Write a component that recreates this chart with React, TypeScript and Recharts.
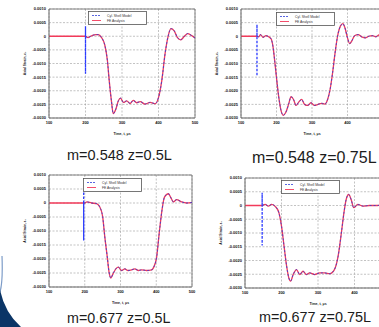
import React from 'react';
import { LineChart, Line, XAxis, YAxis, CartesianGrid, ReferenceLine, Legend } from 'recharts';

const BLUE = '#2f3fd8';
const RED = '#f23a5a';

const xTicks = [0, 100, 200, 300, 400];
const xTickLabels = ['100', '200', '300', '400', '500'];
const yTicks = [0.001, 0.0005, 0, -0.0005, -0.001, -0.0015, -0.002, -0.0025, -0.003];
const yTickLabels = ['0.0010', '0.0005', '0', '-0.0005', '-0.0010', '-0.0015', '-0.0020', '-0.0025', '-0.0030'];

// m=0.548 z=0.5L
const tlTime = [0, 100, 107, 114, 121, 128, 135, 144, 153, 160, 165, 171, 176, 183, 190, 196, 204, 213, 222, 231, 240, 250, 263, 277, 291, 300, 309, 318, 326, 334, 343, 352, 361, 371, 380, 390, 400];
const tlFE = [0, 0, -0.00005, 0, 0.00004, 0.00006, 0.00006, -0.00005, -0.00033, -0.00089, -0.00163, -0.00237, -0.00284, -0.00268, -0.00237, -0.00227, -0.00243, -0.00237, -0.00247, -0.00235, -0.00244, -0.0024, -0.00249, -0.00243, -0.00247, -0.00225, -0.00163, -0.00064, -0.00002, 0.00028, 0.0002, -0.00005, -0.00013, 0, 0.0001, 0.00003, -0.00006];
const tlSpike = [100, 0.00037, -0.00138];

// m=0.548 z=0.75L
const trTime = [0, 45, 50, 55, 62, 70, 78, 85, 90, 95, 100, 106, 112, 119, 126, 134, 141, 148, 155, 163, 171, 179, 188, 197, 207, 217, 227, 236, 244, 251, 258, 265, 272, 280, 287, 293, 300, 306, 313, 320, 330, 340, 350, 360, 370, 380, 390, 400];
const trFE = [0, 0, -0.00002, 0.00006, -0.00004, 0.00002, -0.00002, -0.0001, -0.00037, -0.00091, -0.00152, -0.0022, -0.00268, -0.0029, -0.0028, -0.0025, -0.00222, -0.00232, -0.00254, -0.00241, -0.00232, -0.0025, -0.00254, -0.00244, -0.00254, -0.0025, -0.00246, -0.00249, -0.00232, -0.00195, -0.00134, -0.00061, 0, 0.00037, 0.00046, 0.0003, -0.00006, -0.00027, -0.00015, 0.00002, 0.00006, -0.00002, -0.00006, 0, 0.00002, -0.00002, 0.00005, 0];
const trSpike = [45, 0.00043, -0.00146];

// m=0.677 z=0.5L
const blTime = [0, 100, 106, 119, 133, 142, 150, 156, 163, 168, 173, 179, 187, 194, 203, 212, 221, 231, 240, 250, 259, 273, 287, 293, 301, 308, 316, 323, 334, 340, 348, 357, 371, 385, 400];
const blFE = [0, 0, 0.00004, 0, -0.00002, -0.00014, -0.00048, -0.0012, -0.00193, -0.00247, -0.00268, -0.00253, -0.00235, -0.00229, -0.00241, -0.00235, -0.00241, -0.00239, -0.00235, -0.00241, -0.00239, -0.00241, -0.00239, -0.00229, -0.00194, -0.00111, -0.00026, 0.00021, 0.00033, 0.00021, 0.00004, 0.00012, 0.00004, 0, 0.00002];
const blSpike = [97, 0.0004, -0.00134];

// m=0.677 z=0.75L
const brTime = [0, 47, 55, 64, 73, 84, 93, 100, 107, 114, 120, 125, 132, 141, 150, 159, 168, 177, 191, 205, 218, 232, 245, 255, 264, 271, 277, 284, 291, 298, 309, 323, 341, 359, 380, 400];
const brFE = [0, 0, 0.00004, -0.00002, 0.00004, -0.00005, -0.00027, -0.00075, -0.00148, -0.0022, -0.00263, -0.00275, -0.00251, -0.00233, -0.00251, -0.00239, -0.00251, -0.00245, -0.00251, -0.00245, -0.00245, -0.00248, -0.00233, -0.00185, -0.001, -0.00027, 0.00021, 0.0004, 0.00021, -0.00008, 0.00004, -0.00002, 0, 0, 0.00002, 0];
const brSpike = [47, 0.00046, -0.00145];

const font = '"Liberation Sans", Arial, sans-serif';

const renderLegend = () => (
  <svg width={59} height={14} style={{ display: 'block' }}>
    <rect x={0.5} y={0.5} width={58} height={13} fill="#fff" stroke="#555" strokeWidth={0.8} />
    <line x1={4} y1={4.5} x2={13} y2={4.5} stroke={BLUE} strokeWidth={0.8} strokeDasharray="2 1" />
    <text x={19} y={5.8} fontSize={3.4} fill="#333" fontFamily={font}>Cyl. Shell Model</text>
    <line x1={4} y1={9.5} x2={13} y2={9.5} stroke={RED} strokeWidth={0.9} />
    <text x={19} y={10.8} fontSize={3.4} fill="#333" fontFamily={font}>FE Analysis</text>
  </svg>
);

interface PanelProps {
  left: number;
  top: number;
  width: number;
  height: number;
  yWidth: number;
  time: number[];
  fe: number[];
  spike: number[];
  legendLeft: number;
  legendTop: number;
  tickCount: number;
}

function Panel({ left, top, width, height, yWidth, time, fe, spike, legendLeft, legendTop, tickCount }: PanelProps) {
  const feData = time.map((t, i) => ({ t, v: fe[i] }));
  const spikeData = [
    { t: spike[0], v: 0 },
    { t: spike[0], v: spike[1] },
    { t: spike[0], v: spike[2] },
    { t: spike[0], v: 0 },
  ];
  const shellData = [{ t: spike[0], v: 0 }, ...feData.filter((d) => d.t > spike[0])];
  const tickStyle = { fontSize: 4, fontWeight: 700, fill: '#111', fontFamily: font };
  const shownTicks = xTicks.slice(0, tickCount);

  return (
    <div style={{ position: 'absolute', left, top }}>
      <LineChart width={width} height={height} margin={{ top: 9, right: 5, left: 0, bottom: 0 }}>
        <CartesianGrid stroke="#9a9a9a" strokeWidth={0.6} strokeDasharray="2 1.5" verticalValues={xTicks} />
        <XAxis
          type="number"
          dataKey="t"
          domain={[0, 400]}
          ticks={shownTicks}
          interval={0}
          tickFormatter={(v: number) => xTickLabels[xTicks.indexOf(v)]}
          tick={tickStyle}
          tickSize={0}
          tickMargin={3}
          height={20}
          stroke="#666"
          allowDataOverflow
          label={{ value: 'Time, t, μs', position: 'insideBottom', offset: 3, fontSize: 3.5, fontWeight: 700, fill: '#222', fontFamily: font }}
        />
        <YAxis
          type="number"
          domain={[-0.003, 0.001]}
          ticks={yTicks}
          interval={0}
          tickFormatter={(v: number) => yTickLabels[yTicks.indexOf(v)]}
          tick={tickStyle}
          tickSize={0}
          tickMargin={3}
          width={yWidth}
          stroke="#666"
          allowDataOverflow
          label={{ value: 'Axial Strain, εₓ', angle: -90, position: 'center', fontSize: 3.4, fontWeight: 700, fill: '#222', fontFamily: font }}
        />
        <ReferenceLine y={0.001} stroke="#666" strokeWidth={0.8} />
        <ReferenceLine x={400} stroke="#666" strokeWidth={0.8} />
        <Legend
          layout="horizontal"
          verticalAlign="middle"
          align="center"
          content={renderLegend}
          wrapperStyle={{ position: 'absolute', left: legendLeft, top: legendTop, width: 59, height: 14 }}
        />
        <Line data={feData} dataKey="v" type="monotone" stroke={RED} strokeWidth={1.3} dot={false} isAnimationActive={false} />
        <Line data={shellData} dataKey="v" type="monotone" stroke={BLUE} strokeWidth={0.8} strokeDasharray="2 2" dot={false} isAnimationActive={false} />
        <Line data={spikeData} dataKey="v" type="linear" stroke="#2b3bff" strokeWidth={1.3} strokeDasharray="2.5 1.5" dot={false} isAnimationActive={false} />
      </LineChart>
    </div>
  );
}

export default function App() {
  const cap = { fontFamily: font, fill: '#1c1c1c' };
  return (
    <div style={{ position: 'absolute', left: 0, top: 0, width: 379, height: 327, overflow: 'hidden', background: '#fff' }}>
      <Panel left={0} top={0} width={200} height={138} yWidth={49} time={tlTime} fe={tlFE} spike={tlSpike} legendLeft={88} legendTop={11} tickCount={5} />
      <Panel left={192} top={0} width={196} height={138} yWidth={49} time={trTime} fe={trFE} spike={trSpike} legendLeft={84} legendTop={12} tickCount={4} />
      <Panel left={0} top={166} width={197} height={141} yWidth={49} time={blTime} fe={blFE} spike={blSpike} legendLeft={83} legendTop={12} tickCount={5} />
      <Panel left={196} top={169} width={200} height={139} yWidth={49} time={brTime} fe={brFE} spike={brSpike} legendLeft={85} legendTop={11} tickCount={4} />
      <svg width={379} height={327} style={{ position: 'absolute', left: 0, top: 0, pointerEvents: 'none' }}>
        <text x={67} y={160} fontSize={14.5} {...cap}>m=0.548 z=0.5L</text>
        <text x={252} y={163} fontSize={16} {...cap}>m=0.548 z=0.75L</text>
        <text x={67} y={323} fontSize={14.3} {...cap}>m=0.677 z=0.5L</text>
        <text x={259} y={322} fontSize={14.4} {...cap}>m=0.677 z=0.75L</text>
        <path d="M2,256 Q3,282 0,292" stroke="#7d9cc8" strokeWidth={1.2} fill="none" />
        <path d="M0,290 Q5,313 21,327 L0,327 Z" fill="#0b3566" />
      </svg>
    </div>
  );
}
